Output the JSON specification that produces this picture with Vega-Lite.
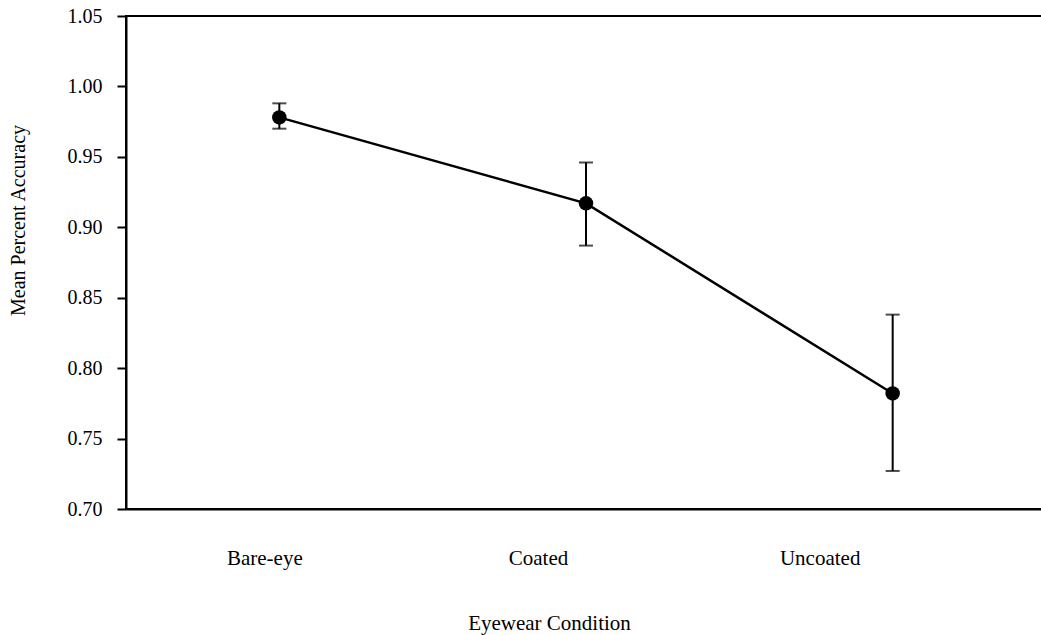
{
  "$schema": "https://vega.github.io/schema/vega-lite/v6.json",
  "autosize": "none",
  "width": 920,
  "height": 493,
  "padding": {"left": 126, "top": 16, "right": 0, "bottom": 126},
  "background": "white",
  "config": {
    "font": "Liberation Serif",
    "view": {"stroke": "black", "strokeWidth": 2},
    "axis": {"domainColor": "black", "domainWidth": 2, "tickColor": "black", "tickWidth": 2, "labelColor": "black", "titleColor": "black", "grid": false, "labelFont": "Liberation Serif", "titleFont": "Liberation Serif", "titleFontWeight": "normal"},
    "axisY": {"labelFontSize": 20, "titleFontSize": 20, "tickSize": 9, "labelPadding": 15, "titleX": -108, "titleY": 204, "titleBaseline": "middle", "titleAlign": "center", "titleAngle": -90, "format": ".2f", "tickCount": 7}
  },
  "data": {"values": [
    {"condition": "Bare-eye", "mean": 0.978, "lo": 0.970, "hi": 0.988},
    {"condition": "Coated", "mean": 0.917, "lo": 0.887, "hi": 0.946},
    {"condition": "Uncoated", "mean": 0.782, "lo": 0.727, "hi": 0.838}
  ]},
  "encoding": {
    "x": {
      "field": "condition", "type": "nominal", "sort": null,
      "scale": {"type": "point", "padding": 0.5},
      "axis": {
        "title": "Eyewear Condition", "labelAngle": 0, "labelFontSize": 21, "titleFontSize": 21,
        "ticks": false, "labelPadding": 38,
        "labelOffset": {"condition": [{"test": "datum.value == 'Bare-eye'", "value": -15}, {"test": "datum.value == 'Coated'", "value": -48}], "value": -73},
        "titleX": 423, "titleY": 114, "titleBaseline": "middle", "titleAlign": "center"
      }
    }
  },
  "layer": [
    {
      "mark": {"type": "line", "color": "black", "strokeWidth": 2.5},
      "encoding": {
        "y": {
          "field": "mean", "type": "quantitative", "title": "Mean Percent Accuracy",
          "scale": {"domain": [0.70, 1.05], "zero": false, "nice": false}
        }
      }
    },
    {
      "mark": {"type": "rule", "color": "black", "strokeWidth": 2},
      "encoding": {
        "y": {"field": "lo", "type": "quantitative", "title": "Mean Percent Accuracy"},
        "y2": {"field": "hi"}
      }
    },
    {
      "mark": {"type": "tick", "color": "black", "thickness": 2, "size": 14, "orient": "horizontal"},
      "encoding": {"y": {"field": "lo", "type": "quantitative", "title": "Mean Percent Accuracy"}}
    },
    {
      "mark": {"type": "tick", "color": "black", "thickness": 2, "size": 14, "orient": "horizontal"},
      "encoding": {"y": {"field": "hi", "type": "quantitative", "title": "Mean Percent Accuracy"}}
    },
    {
      "mark": {"type": "point", "filled": true, "color": "black", "size": 210, "opacity": 1},
      "encoding": {"y": {"field": "mean", "type": "quantitative", "title": "Mean Percent Accuracy"}}
    }
  ]
}
